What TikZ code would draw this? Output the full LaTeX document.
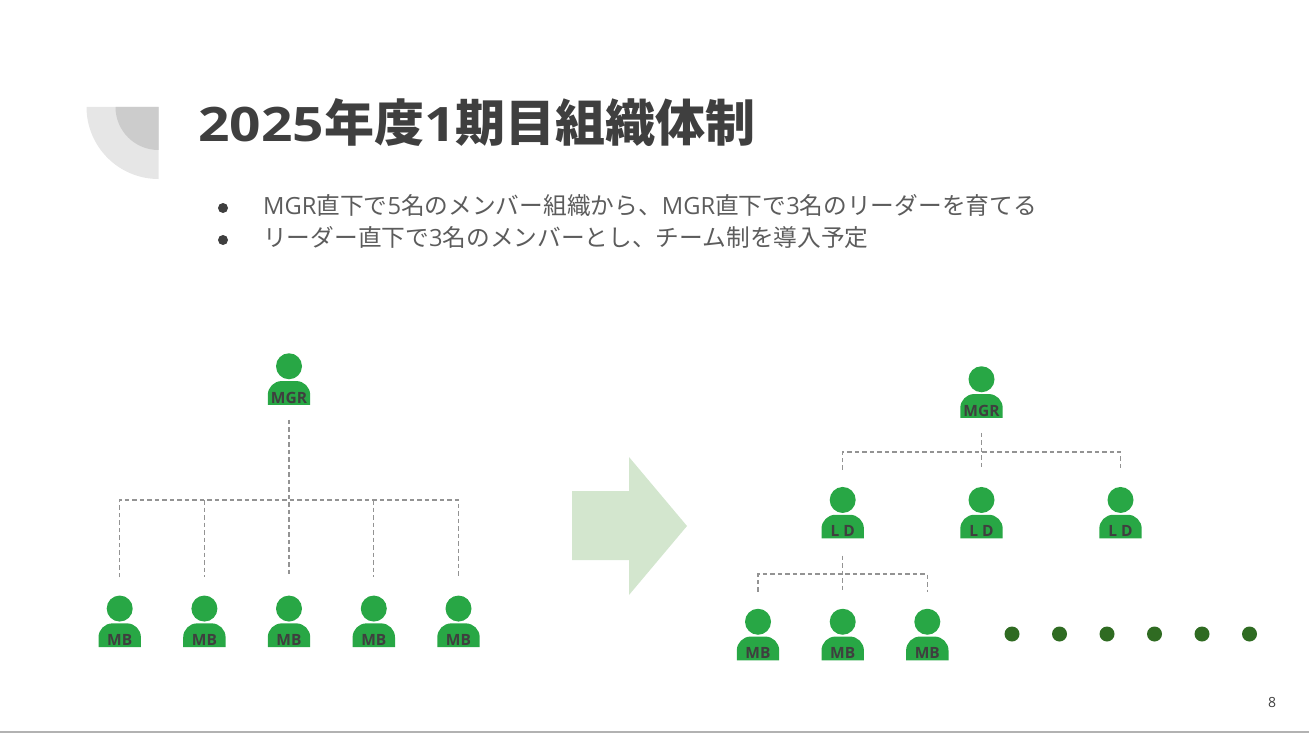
\documentclass[tikz,border=0pt]{standalone}
\usepackage{fontspec}
\usepackage{xcolor}
\usepackage{tikz}
\usetikzlibrary{calc}
\setmainfont{Open Sans}
\newfontfamily\cjk{Noto Sans CJK JP}
\newfontfamily\wide[FakeStretch=1.16,Scale=0.95]{Open Sans}
\definecolor{ink}{HTML}{3F3F3F}
\definecolor{staff}{HTML}{28A745}
\definecolor{dotgreen}{HTML}{2F6B22}
\definecolor{paleshape}{HTML}{E6E6E6}
\definecolor{darkshape}{HTML}{CCCCCC}
\definecolor{palearrow}{HTML}{D3E6CE}
\tikzset{
  personbox/.style={inner sep=0pt, text height=50pt, text depth=1.5pt, minimum width=42.4pt,
                 align=center, text=ink, font=\bfseries\fontsize{15.5}{15.5}\selectfont},
  pics/person/.style={code={
    \fill[staff] (0,-12.75) circle (13);
    \fill[staff] (-21.2,25.75) [rounded corners=14pt] -- (-21.2,2.05) -- (21.2,2.05)
      [sharp corners] -- (21.2,25.75) -- cycle;
    \node[personbox] (-box) at (0,0) {#1};}},
  dline/.style={draw=gray!85, line width=1.1pt, dash pattern=on 4.5pt off 3pt},
  dot/.style={circle, fill=dotgreen, minimum size=15pt, inner sep=0pt},
  bull/.style={circle, fill=ink, minimum size=10pt, inner sep=0pt},
  item/.style={anchor=base west, inner sep=0pt, text=ink!85, font=\fontsize{23.7}{24}\selectfont}
}
\begin{document}
\begin{tikzpicture}[x=1pt, y=-1pt]
  \useasboundingbox (0,0) rectangle (1309,733);

  % header
  \fill[paleshape] (86.5,107) arc[start angle=180, end angle=90, radius=72] -- (158.5,107) -- cycle;
  \fill[darkshape] (115.5,107) arc[start angle=180, end angle=90, radius=43] -- (158.5,107) -- cycle;
  \node[anchor=base west, inner sep=0pt, text=ink, font=\bfseries\fontsize{50}{50}\selectfont]
    (title) at (198,142) {{\wide 2025}\cjk 年度{\wide 1}期目組織体制};
  \node[bull] (bull1) at (223,208) {};
  \node[bull] (bull2) at (223,240) {};
  \node[item] (item1) at (263,214.5) {MGR{\cjk 直下で}5{\cjk 名のメンバー組織から、}MGR{\cjk 直下で}3{\cjk 名のリーダーを育てる}};
  \node[item] (item2) at (263,246.5) {\cjk リーダー直下で{\rmfamily 3}名のメンバーとし、チーム制を導入予定};

  % current team
  \pic (mgrA) at (289,379) {person={MGR}};
  \pic (mb1) at (119.7,621.3) {person={MB}};
  \pic (mb2) at (204.4,621.3) {person={MB}};
  \pic (mb3) at (289,621.3) {person={MB}};
  \pic (mb4) at (373.8,621.3) {person={MB}};
  \pic (mb5) at (458.5,621.3) {person={MB}};
  \coordinate (busA) at (289,500);
  \draw[dline, shorten <=15pt, shorten >=18pt] (mgrA-box) -- (mb3-box);
  \draw[dline, shorten <=18pt, shorten >=18pt] (mb1-box) -- (mb1-box |- busA) -- (mb5-box |- busA) -- (mb5-box);
  \draw[dline, shorten >=18pt] (mb2-box |- busA) -- (mb2-box);
  \draw[dline, shorten >=18pt] (mb4-box |- busA) -- (mb4-box);

  % arrow
  \fill[palearrow] (572,491) -- (629,491) -- (629,457) -- (687,526) -- (629,595) -- (629,560) -- (572,560) -- cycle;

  % next team
  \pic (mgrB) at (981.5,392) {person={MGR}};
  \pic (ld1) at (842.7,512.7) {person={L D}};
  \pic (ld2) at (981.5,512.7) {person={L D}};
  \pic (ld3) at (1120.5,512.7) {person={L D}};
  \pic (mb6) at (758,634.5) {person={MB}};
  \pic (mb7) at (842.7,634.5) {person={MB}};
  \pic (mb8) at (927.3,634.5) {person={MB}};
  \coordinate (busB) at (981.5,452);
  \coordinate (busC) at (842.7,574);
  \draw[dline, shorten <=15pt, shorten >=19pt] (mgrB-box) -- (ld2-box);
  \draw[dline, shorten <=17pt, shorten >=17pt] (ld1-box) -- (ld1-box |- busB) -- (ld3-box |- busB) -- (ld3-box);
  \draw[dline, shorten <=17pt, shorten >=19pt] (ld1-box) -- (mb7-box);
  \draw[dline, shorten <=17pt, shorten >=17pt] (mb6-box) -- (mb6-box |- busC) -- (mb8-box |- busC) -- (mb8-box);

  \node[dot] (dot1) at (1012,634) {};
  \node[dot] (dot2) at (1059.5,634) {};
  \node[dot] (dot3) at (1107,634) {};
  \node[dot] (dot4) at (1154.5,634) {};
  \node[dot] (dot5) at (1202,634) {};
  \node[dot] (dot6) at (1249.5,634) {};

  % footer
  \node[text=ink, inner sep=0pt, font=\fontsize{14}{14}\selectfont] (pagenum) at (1272,702) {8};
  \coordinate (footL) at (0,732);
  \coordinate (footR) at (1309,732);
  \draw[gray!60, line width=1.2pt] (footL) -- (footR);
\end{tikzpicture}
\end{document}
